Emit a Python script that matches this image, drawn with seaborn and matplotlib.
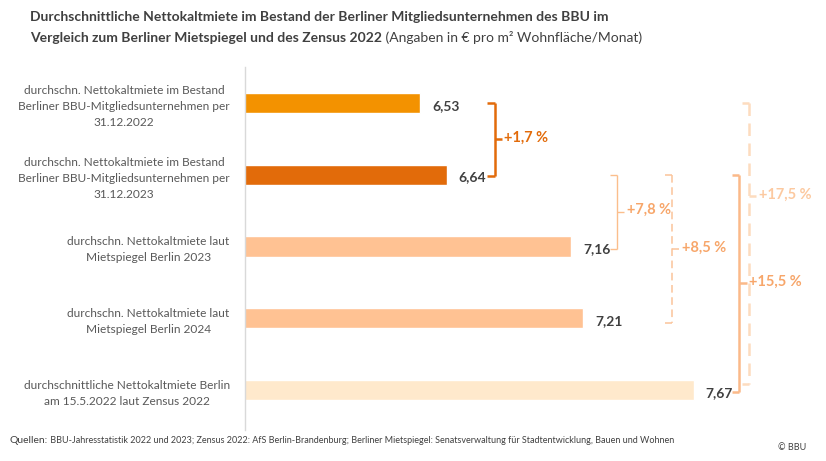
import matplotlib
matplotlib.use("Agg")
import matplotlib.pyplot as plt
import seaborn as sns

# data
categories = [
    "durchschn. Nettokaltmiete im Bestand\nBerliner BBU-Mitgliedsunternehmen per\n31.12.2022",
    "durchschn. Nettokaltmiete im Bestand\nBerliner BBU-Mitgliedsunternehmen per\n31.12.2023",
    "durchschn. Nettokaltmiete laut\nMietspiegel Berlin 2023",
    "durchschn. Nettokaltmiete laut\nMietspiegel Berlin 2024",
    "durchschnittliche Nettokaltmiete Berlin\nam 15.5.2022 laut Zensus 2022",
]
rents = [6.53, 6.64, 7.16, 7.21, 7.67]
bar_colors = ["#F39200", "#E26B0A", "#FFC293", "#FFC293", "#FFE9CC"]

# comparisons: (from bar, to bar, label)
diff_from = [0, 1, 1, 1, 0]
diff_to = [1, 2, 3, 4, 4]
diff_labels = ["+1,7 %", "+7,8 %", "+8,5 %", "+15,5 %", "+17,5 %"]

# bracket layout (x offset beyond the longer bar, end trims, mid position, style)
bracket_style = [
    dict(dx=0.20, e1=0.02, mid=0.5, color="#E26B0A", tcolor="#E26B0A", lw=1.8, ls="-"),
    dict(dx=0.19, e1=0.03, mid=0.5, color="#FBBE8C", tcolor="#F7A66A", lw=1.0, ls="-"),
    dict(dx=0.37, e1=0.07, mid=0.5, color="#FBC49A", tcolor="#F7A66A", lw=1.1, ls=(0, (5, 3))),
    dict(dx=0.19, e1=0.03, mid=0.5, color="#FBB989", tcolor="#F7A66A", lw=1.8, ls="-"),
    dict(dx=0.23, e1=-0.08, mid=0.33, color="#FDDCBF", tcolor="#FCC9A0", lw=1.8, ls=(0, (5, 3))),
]

sns.set_theme(style="white")
plt.rcParams["font.family"] = ["Lato", "DejaVu Sans"]

fig = plt.figure(figsize=(8.26, 4.61), dpi=100)
ax = fig.add_axes([245 / 826, 1 - 430 / 461, 565 / 826, 363 / 461])

sns.barplot(x=rents, y=categories, hue=categories, palette=bar_colors,
            legend=False, width=0.28, orient="h", ax=ax, saturation=1)

ax.set_xlim(5.8, 5.8 + 565 / 240)
ax.set_ylim(4.557, -0.5)
ax.set_xticks([])
ax.set_xlabel("")
ax.set_ylabel("")
for s in ["top", "right", "bottom"]:
    ax.spines[s].set_visible(False)
ax.spines["left"].set_color("#D9D9D9")
ax.spines["left"].set_linewidth(1)
ax.tick_params(axis="y", length=0, pad=11)
for lbl in ax.get_yticklabels():
    lbl.set_multialignment("center")
    lbl.set_fontsize(8.6)
    lbl.set_color("#595959")
    lbl.set_linespacing(1.55)

# value labels
for i, v in enumerate(rents):
    ax.text(v + 0.05, i + 0.04, f"{v:.2f}".replace(".", ","), ha="left", va="center",
            fontsize=10, fontweight="bold", color="#404040")

# brackets
tick = 0.03
for a, b, lab, st in zip(diff_from, diff_to, diff_labels, bracket_style):
    x = max(rents[a], rents[b]) + st["dx"]
    y0, y1 = a + 0.0, b + st["e1"]
    ym = y0 + (y1 - y0) * st["mid"]
    kw = dict(color=st["color"], lw=st["lw"], ls=st["ls"], solid_capstyle="butt")
    ax.plot([x, x], [y0, y1], **kw)
    ax.plot([x - tick, x], [y0, y0], **kw)
    ax.plot([x - tick, x], [y1, y1], **kw)
    ax.plot([x, x + tick], [ym, ym], color=st["color"], lw=st["lw"], solid_capstyle="butt")
    ax.text(x + tick + 0.01, ym - 0.02, lab, ha="left", va="center", fontsize=10.5,
            fontweight="bold", color=st["tcolor"])

# title
t1 = fig.text(30 / 826, 1 - 17 / 461, "Durchschnittliche Nettokaltmiete im Bestand der Berliner Mitgliedsunternehmen des BBU im",
              ha="left", va="center", fontsize=10, fontweight="bold", color="#404040")
t2 = fig.text(30 / 826, 1 - 38 / 461, "Vergleich zum Berliner Mietspiegel und des Zensus 2022",
              ha="left", va="center", fontsize=10, fontweight="bold", color="#404040")
ax.annotate(" (Angaben in € pro m² Wohnfläche/Monat)", xy=(1, 0.5), xycoords=t2,
            ha="left", va="center", fontsize=10, color="#404040", annotation_clip=False)

# footer
q = fig.text(10 / 826, 1 - 440 / 461, "Quellen:", ha="left", va="center", fontsize=7.5, color="#404040")
ax.annotate(" BBU-Jahresstatistik 2022 und 2023; Zensus 2022: AfS Berlin-Brandenburg; Berliner Mietspiegel: "
            "Senatsverwaltung für Stadtentwicklung, Bauen und Wohnen",
            xy=(1, 0.45), xycoords=q, ha="left", va="center", fontsize=6.45, color="#404040",
            annotation_clip=False)
fig.text(806 / 826, 1 - 447 / 461, "© BBU", ha="right", va="center", fontsize=6.5, color="#404040")

fig.savefig("out.png", dpi=100)
